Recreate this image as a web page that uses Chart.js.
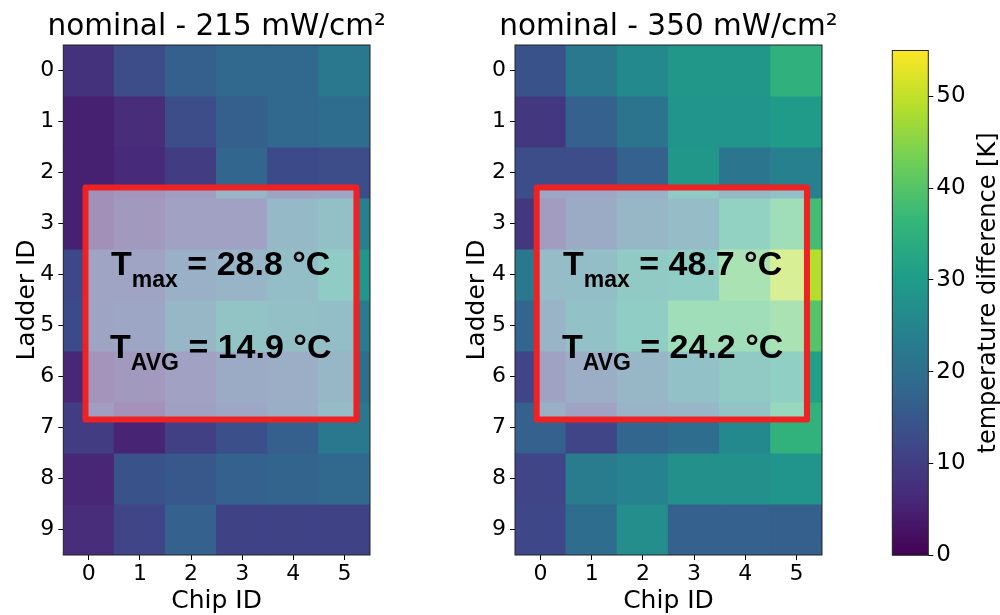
<!DOCTYPE html>
<html>
<head>
<meta charset="utf-8">
<script src="https://cdn.jsdelivr.net/npm/chart.js@4.4.0/dist/chart.umd.min.js"></script>
<style>
  html, body { margin: 0; padding: 0; background: #fff; }
  body { width: 1000px; height: 615px; position: relative; overflow: hidden; }
  canvas { position: absolute; top: 0; }
</style>
</head>
<body>
<canvas id="left" width="450" height="615" style="left:0"></canvas>
<canvas id="right" width="420" height="615" style="left:450px"></canvas>
<canvas id="cbar" width="140" height="615" style="left:860px"></canvas>
<script>
// Data
const chipIds = ['0', '1', '2', '3', '4', '5'];
const ladderIds = [0, 1, 2, 3, 4, 5, 6, 7, 8, 9];

// temperature difference [K], rows = ladder 0..9, cols = chip 0..5
const dT215 = [
  [8, 13, 16.5, 18.5, 18.5, 22],
  [5, 7, 13, 16.5, 18.5, 19.5],
  [5, 6.5, 10, 18, 12.5, 13],
  [5, 8, 11, 11, 21, 24],
  [12, 12, 17, 19, 23, 28.8],
  [12.5, 13, 20, 26, 24, 23],
  [6, 8, 11, 15, 16, 20],
  [10, 5.5, 10.5, 13.5, 16.5, 22],
  [6, 14, 15, 17, 17.5, 18.5],
  [7, 11.5, 17, 11, 11, 11]
];
const dT350 = [
  [14, 22, 26, 29, 29, 35],
  [9, 17, 21, 28.5, 28.5, 30],
  [13, 13, 17, 29, 21.5, 24],
  [9, 15, 20, 22, 32, 38],
  [22, 23, 28, 30, 40, 48.7],
  [18, 25, 30, 38, 38, 40],
  [11.5, 16, 20, 25, 28, 31],
  [17, 11.5, 18, 19.5, 26, 35.5],
  [11.5, 23, 24.5, 27.5, 27.5, 28.5],
  [12, 19.5, 27, 17, 17, 16.5]
];
const panelTitles = ['nominal - 215 mW/cm\u00b2', 'nominal - 350 mW/cm\u00b2'];
const tMax = ['28.8', '48.7'];
const tAvg = ['14.9', '24.2'];
const cbRange = [0, 55];
const cbTicks = [0, 10, 20, 30, 40, 50];

const FONT = "'DejaVu Sans', sans-serif";
const BOLD = "'Liberation Sans', Arial, sans-serif";
const VIRIDIS = ['#440154', '#482878', '#3e4989', '#31688e', '#26828e', '#1f9e89', '#35b779', '#6ece58', '#b5de2b', '#fde725'];

function hexRgb(h) {
  return [parseInt(h.slice(1, 3), 16), parseInt(h.slice(3, 5), 16), parseInt(h.slice(5, 7), 16)];
}

function viridis(v) {
  let t = (v - cbRange[0]) / (cbRange[1] - cbRange[0]);
  t = Math.max(0, Math.min(1, t));
  const pos = t * (VIRIDIS.length - 1);
  const i = Math.min(Math.floor(pos), VIRIDIS.length - 2);
  const f = pos - i;
  const a = hexRgb(VIRIDIS[i]), b = hexRgb(VIRIDIS[i + 1]);
  const c = a.map((x, k) => Math.round(x + (b[k] - x) * f));
  return `rgb(${c[0]},${c[1]},${c[2]})`;
}

// white box + red frame + the T labels, placed in data coords
const overlayPlugin = {
  id: 'overlay',
  afterDatasetsDraw(chart, args, opts) {
    const { ctx, scales: { x, y } } = chart;
    const x0 = x.getPixelForValue(opts.box[0]), x1 = x.getPixelForValue(opts.box[1]);
    const y0 = y.getPixelForValue(opts.box[2]), y1 = y.getPixelForValue(opts.box[3]);
    ctx.save();
    ctx.fillStyle = 'rgba(255,255,255,0.5)';
    ctx.fillRect(x0, y0, x1 - x0, y1 - y0);
    ctx.strokeStyle = '#ee2222';
    ctx.lineWidth = 6;
    ctx.lineJoin = 'round';
    ctx.strokeRect(x0, y0, x1 - x0, y1 - y0);

    ctx.fillStyle = '#000';
    ctx.textBaseline = 'alphabetic';
    ctx.textAlign = 'left';
    const cx = x.getPixelForValue(opts.textX);
    const big = `bold 34px ${BOLD}`, small = `bold 23px ${BOLD}`;
    opts.lines.forEach(line => {
      const by = y.getPixelForValue(line.y);
      ctx.font = big;
      const wT = ctx.measureText('T').width;
      const wRest = ctx.measureText(line.rest).width;
      ctx.font = small;
      const wSub = ctx.measureText(line.sub).width;
      let px = cx - (wT + wSub + wRest) / 2;
      ctx.font = big;
      ctx.fillText('T', px, by);
      px += wT;
      ctx.font = small;
      ctx.fillText(line.sub, px, by + 12);
      px += wSub;
      ctx.font = big;
      ctx.fillText(line.rest, px, by);
    });
    ctx.restore();
  }
};

// frame + panel title (title is wider than the plot, so drawn here without squeezing)
const framePlugin = {
  id: 'frame',
  afterDraw(chart, args, opts) {
    const { ctx, chartArea: a } = chart;
    ctx.save();
    ctx.strokeStyle = '#222';
    ctx.lineWidth = 1;
    ctx.strokeRect(a.left, a.top, a.right - a.left, a.bottom - a.top);
    if (opts.title) {
      ctx.fillStyle = '#000';
      ctx.font = `29.5px ${FONT}`;
      ctx.textAlign = 'center';
      ctx.textBaseline = 'alphabetic';
      ctx.fillText(opts.title, (a.left + a.right) / 2, 35);
    }
    ctx.restore();
  }
};

function heatmap(id, idx, values, yWidth, padRight, yTitlePad, box) {
  const datasets = ladderIds.map((row, r) => ({
    label: 'Ladder ' + row,
    data: chipIds.map(() => [row - 0.5, row + 0.5]),
    backgroundColor: values[r].map(viridis),
    grouped: false,
    barPercentage: 1,
    categoryPercentage: 1,
    borderWidth: 0,
    inflateAmount: 0.6
  }));

  return new Chart(document.getElementById(id), {
    type: 'bar',
    data: { labels: chipIds, datasets: datasets },
    options: {
      responsive: false,
      animation: false,
      events: [],
      layout: { padding: { left: 0, right: padRight, top: 45, bottom: 0 } },
      plugins: {
        legend: { display: false },
        tooltip: { enabled: false },
        frame: { title: panelTitles[idx] },
        overlay: {
          box: box,
          textX: 2.58,
          lines: [
            { y: 4.01, sub: 'max', rest: ` = ${tMax[idx]} \u00b0C` },
            { y: 5.64, sub: 'AVG', rest: ` = ${tAvg[idx]} \u00b0C` }
          ]
        }
      },
      scales: {
        x: {
          type: 'category',
          offset: true,
          grid: { drawOnChartArea: false, tickLength: 5, color: '#000', offset: false },
          border: { display: false },
          ticks: { color: '#000', font: { family: FONT, size: 22 }, padding: 1, maxRotation: 0 },
          title: { display: true, text: 'Chip ID', color: '#000', font: { family: FONT, size: 25 }, padding: { top: 0, bottom: -1 } },
          afterFit: s => { s.height = 60; }
        },
        y: {
          type: 'linear',
          min: -0.5,
          max: 9.5,
          reverse: true,
          afterBuildTicks: s => { s.ticks = ladderIds.map(v => ({ value: v })); },
          grid: { drawOnChartArea: false, tickLength: 5, color: '#000' },
          border: { display: false },
          ticks: { color: '#000', font: { family: FONT, size: 22 }, padding: 4 },
          title: { display: true, text: 'Ladder ID', color: '#000', font: { family: FONT, size: 25 }, padding: { top: yTitlePad, bottom: 0 } },
          afterFit: s => { s.width = yWidth; }
        }
      }
    },
    plugins: [overlayPlugin, framePlugin]
  });
}

heatmap('left', 0, dT215, 63.3, 80, 12, [-0.066, 5.235, 2.294, 6.843]);
heatmap('right', 1, dT350, 65, 48, 12, [-0.076, 5.206, 2.294, 6.843]);

// colorbar
const cbarTitle = {
  id: 'cbarTitle',
  afterDraw(chart) {
    const { ctx } = chart;
    ctx.save();
    ctx.translate(135, 293);
    ctx.rotate(-Math.PI / 2);
    ctx.fillStyle = '#000';
    ctx.font = `24px ${FONT}`;
    ctx.textAlign = 'center';
    ctx.textBaseline = 'alphabetic';
    ctx.fillText('temperature difference [K]', 0, 0);
    ctx.restore();
  }
};

new Chart(document.getElementById('cbar'), {
  type: 'bar',
  data: {
    labels: ['dT'],
    datasets: [{
      data: [[cbRange[0], cbRange[1]]],
      backgroundColor: c => {
        const a = c.chart.chartArea;
        if (!a) return VIRIDIS[0];
        const g = c.chart.ctx.createLinearGradient(0, a.bottom, 0, a.top);
        VIRIDIS.forEach((col, i) => g.addColorStop(i / (VIRIDIS.length - 1), col));
        return g;
      },
      barPercentage: 1,
      categoryPercentage: 1,
      borderWidth: 0
    }]
  },
  options: {
    responsive: false,
    animation: false,
    events: [],
    layout: { padding: { left: 32.3, right: 0, top: 50.5, bottom: 59.7 } },
    plugins: { legend: { display: false }, tooltip: { enabled: false } },
    scales: {
      x: { display: false },
      y: {
        position: 'right',
        min: cbRange[0],
        max: cbRange[1],
        afterBuildTicks: s => { s.ticks = cbTicks.map(v => ({ value: v })); },
        grid: { drawOnChartArea: false, tickLength: 5, color: '#000' },
        border: { display: false },
        ticks: { color: '#000', font: { family: FONT, size: 23 }, padding: 3 },
        afterFit: s => { s.width = 71.7; }
      }
    }
  },
  plugins: [framePlugin, cbarTitle]
});
</script>
</body>
</html>
